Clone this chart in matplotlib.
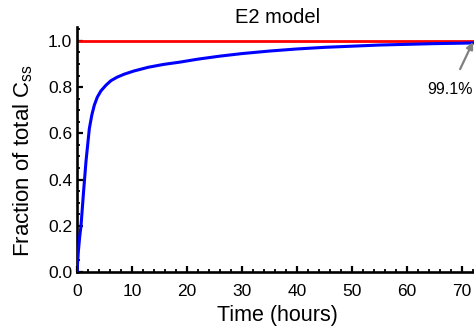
import matplotlib
matplotlib.use("Agg")
import matplotlib.pyplot as plt
from matplotlib.ticker import MultipleLocator

plt.rcParams['font.family'] = ['Liberation Sans', 'DejaVu Sans']
plt.rcParams['mathtext.fontset'] = 'custom'
plt.rcParams['mathtext.rm'] = 'Liberation Sans'
plt.rcParams['mathtext.it'] = 'Liberation Sans:italic'

# fraction of total Css vs time
t_h = [0, 0.25, 0.5, 0.73, 1.2, 1.64, 2.24, 2.7, 3.15, 3.7, 4.36, 5.3, 6.18,
       7.3, 8.6, 10.4, 13, 15.7, 18.7, 22, 26, 30, 35, 40, 45, 50, 55, 60,
       65, 70, 72]
frac = [0.0, 0.09, 0.155, 0.20, 0.35, 0.48, 0.62, 0.68, 0.722, 0.757, 0.784,
        0.809, 0.828, 0.843, 0.856, 0.870, 0.886, 0.898, 0.908, 0.921, 0.934,
        0.945, 0.956, 0.965, 0.972, 0.977, 0.982, 0.985, 0.988, 0.990, 0.991]
ref_level = 1.0
end_label = "99.1%"

fig = plt.figure(figsize=(4.74, 3.28), dpi=100)
ax = fig.add_axes([77/474, 56/328, 401.5/474, 245/328])

ax.axhline(ref_level, color='#ff0000', lw=2.0, zorder=2)
ax.plot(t_h, frac, color='#0000ff', lw=2.2, zorder=3)

ax.set_xlim(0, 73)
ax.set_ylim(0, 1.06)
ax.xaxis.set_major_locator(MultipleLocator(10))
ax.xaxis.set_minor_locator(MultipleLocator(2))
ax.yaxis.set_major_locator(MultipleLocator(0.2))
ax.yaxis.set_minor_locator(MultipleLocator(0.05))
ax.yaxis.set_major_formatter(plt.FormatStrFormatter('%.1f'))

for s in ['top', 'right']:
    ax.spines[s].set_visible(False)
for s in ['left', 'bottom']:
    ax.spines[s].set_linewidth(1.9)

ax.tick_params(which='major', direction='in', length=4, width=1.6, labelsize=12.5)
ax.tick_params(axis='x', which='major', pad=8.5)
ax.tick_params(axis='y', which='major', pad=3.5)
ax.tick_params(which='minor', direction='in', length=2.5, width=1.3)

ax.set_xlabel('Time (hours)', fontsize=15.5, labelpad=4.5)
ax.set_ylabel(r'Fraction of total C$_{\mathrm{ss}}$', fontsize=16, labelpad=9.5)
ax.yaxis.label.set_y(0.453)
ax.set_title('E2 model', fontsize=14.5, pad=-2.5)

ax.annotate(end_label, xy=(72, 0.995), xytext=(67.9, 0.79),
            fontsize=11.5, ha='center', va='center',
            arrowprops=dict(arrowstyle='-|>', color='#808080', lw=1.6,
                            shrinkA=8, shrinkB=0, mutation_scale=10))

fig.savefig('out.png', dpi=100)
